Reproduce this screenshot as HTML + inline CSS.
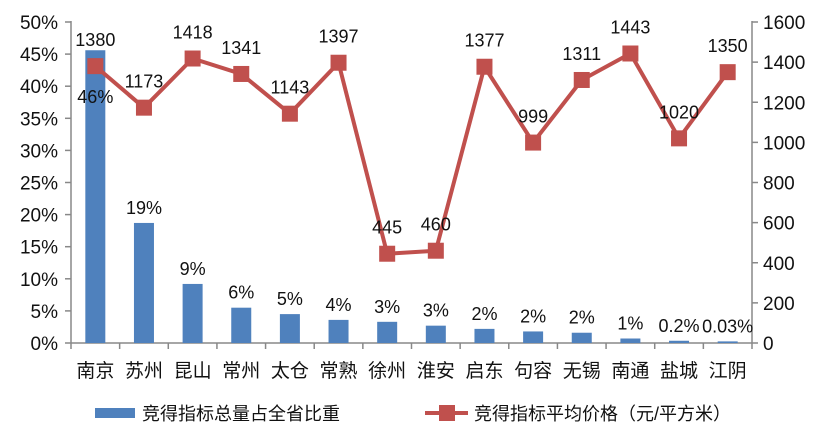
<!DOCTYPE html><html><head><meta charset="utf-8"><style>body{margin:0;background:#fff}svg{display:block}text{font-family:"Liberation Sans","Noto Sans CJK SC",sans-serif;fill:#111}</style></head><body>
<svg width="824" height="434" viewBox="0 0 824 434" xmlns="http://www.w3.org/2000/svg">
<g stroke="#888" stroke-width="1.5" fill="none">
<line x1="71" y1="21" x2="71" y2="343"/>
<line x1="752" y1="21" x2="752" y2="343"/>
<line x1="71" y1="343" x2="752" y2="343"/>
</g>
<g id="g"></g>
<script>
const ns="http://www.w3.org/2000/svg",g=document.getElementById('g');
function el(t,a,tx){const e=document.createElementNS(ns,t);for(const k in a)e.setAttribute(k,a[k]);if(tx!=null)e.textContent=tx;g.appendChild(e);return e;}
const cats=["南京","苏州","昆山","常州","太仓","常熟","徐州","淮安","启东","句容","无锡","南通","盐城","江阴"];
const pct=[45.6,18.7,9.2,5.5,4.5,3.6,3.3,2.7,2.2,1.8,1.6,0.7,0.35,0.25];
const pl=["46%","19%","9%","6%","5%","4%","3%","3%","2%","2%","2%","1%","0.2%","0.03%"];
const val=[1380,1173,1418,1341,1143,1397,445,460,1377,999,1311,1443,1020,1350];
const x0=71,w=681/14,yb=343,H=321;
for(let i=0;i<=10;i++){const y=yb-i*H/10;
el('line',{x1:65,y1:y,x2:71,y2:y,stroke:'#888','stroke-width':1.5});
el('text',{x:58,y:y+7,'font-size':19,'text-anchor':'end'},(i*5)+'%');}
for(let i=0;i<=8;i++){const y=yb-i*H/8;
el('line',{x1:752,y1:y,x2:758,y2:y,stroke:'#888','stroke-width':1.5});
el('text',{x:763,y:y+7,'font-size':19},String(i*200));}
for(let i=0;i<=14;i++){const x=x0+i*w;el('line',{x1:x,y1:343,x2:x,y2:349,stroke:'#888','stroke-width':1.5});}
let pts=[];
cats.forEach((c,i)=>{const cx=x0+w*(i+.5);const h=pct[i]*H/50;
el('rect',{x:cx-10,y:yb-h,width:20,height:h,fill:'#4f81bd'});
el('text',{x:cx,y:377,'font-size':19,'text-anchor':'middle'},c);
const ly=i==0?103:yb-h-9;
el('text',{x:cx,y:ly,'font-size':18,'text-anchor':'middle'},pl[i]);
pts.push([cx,yb-val[i]*H/1600]);});
el('polyline',{points:pts.map(p=>p.join(',')).join(' '),fill:'none',stroke:'#c0504d','stroke-width':4,'stroke-linejoin':'round'});
pts.forEach((p,i)=>{el('rect',{x:p[0]-8,y:p[1]-8,width:16,height:16,fill:'#c0504d'});
el('text',{x:p[0],y:p[1]-20,'font-size':18,'text-anchor':'middle'},String(val[i]));});
el('rect',{x:95,y:408,width:40,height:10,fill:'#4f81bd'});
el('text',{x:142,y:420,'font-size':18},'竞得指标总量占全省比重');
el('line',{x1:425,y1:413,x2:468,y2:413,stroke:'#c0504d','stroke-width':4});
el('rect',{x:439,y:405,width:16,height:16,fill:'#c0504d'});
el('text',{x:474,y:420,'font-size':18},'竞得指标平均价格（元/平方米）');
</script>
</svg></body></html>
